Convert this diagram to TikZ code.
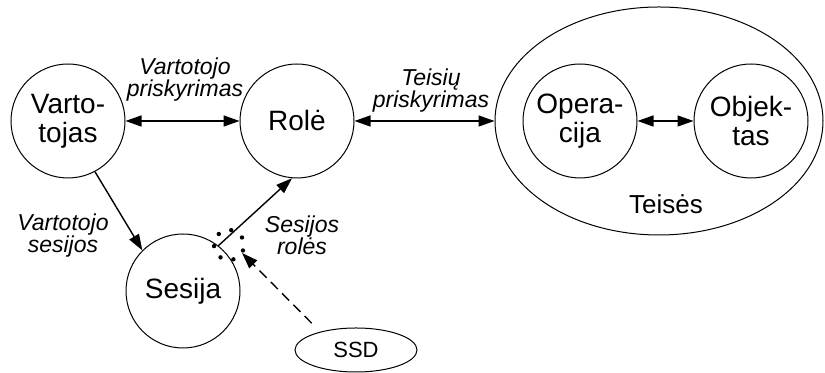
\documentclass[tikz,border=0pt]{standalone}
\usepackage{fontspec}
\setmainfont{Liberation Sans}
\usetikzlibrary{shapes,% ellipse nodes
arrows.meta}%           Triangle tips
\tikzset{every node/.style={font=\fontsize{14}{14.5}\selectfont},
  obj/.style={draw, circle, minimum size=57pt, inner sep=0pt, align=center},
  lbl/.style={font=\itshape\fontsize{11.5}{11}\selectfont, align=center},
  conn/.style={line width=0.7pt},
  >={Triangle[length=8pt,width=5.5pt]}}

\begin{document}
\begin{tikzpicture}[x=0.5pt,y=0.5pt,line width=0.5pt]
      \useasboundingbox (0,0) rectangle (825,373);
      % the three entities and the rights ellipse
      \node[obj] (vart) at (68,252) {Varto-\\tojas};
      \node[obj] (role) at (297,252) {Rolė};
      \node[obj] (ses) at (183,82) {Sesija};
      \node[draw, ellipse, minimum width=164pt, minimum height=114pt] (teis) at (659,252) {};
      \node[obj] (oper) at (580,252) {Opera-\\cija};
      \node[obj] (objk) at (751,252) {Objek-\\tas};
      \node[font=\fontsize{13}{13}\selectfont] (teislbl) at (666,169) {Teisės};
      \node[draw, ellipse, minimum width=61pt, minimum height=22pt, inner sep=0pt,
            font=\fontsize{11}{11}\selectfont] (ssd) at (356,23) {SSD};
      % assignments
      \draw[<->, conn] (vart) -- (role);
      \draw[<->, conn] (role) -- (teis);
      \draw[<->, conn] (oper) -- (objk);
      \draw[->, conn] (vart.-62) -- (ses.135);
      \draw[->, conn] (ses.52) -- (role.-95);
      \node[lbl] (vpl) at (185,293) {Vartotojo\\priskyrimas};
      \node[lbl] (tpl) at (431,282) {Teisių\\priskyrimas};
      \node[lbl] (vsl) at (63,137) {Vartotojo\\sesijos};
      \node[lbl] (srl) at (302,138) {Sesijos\\rolės};
      % dotted ring where SSD acts
      \coordinate (dots) at (229,128);
      \foreach\a in {0,...,6} \fill (dots) ++(\a*51.4+30:15) circle (1.1pt);
      \coordinate (ssdtip) at (242,120);
      \draw[->, conn, dash pattern=on 5pt off 3pt, shorten <=6pt] (ssd.153) -- (ssdtip);
    \end{tikzpicture}
\end{document}
